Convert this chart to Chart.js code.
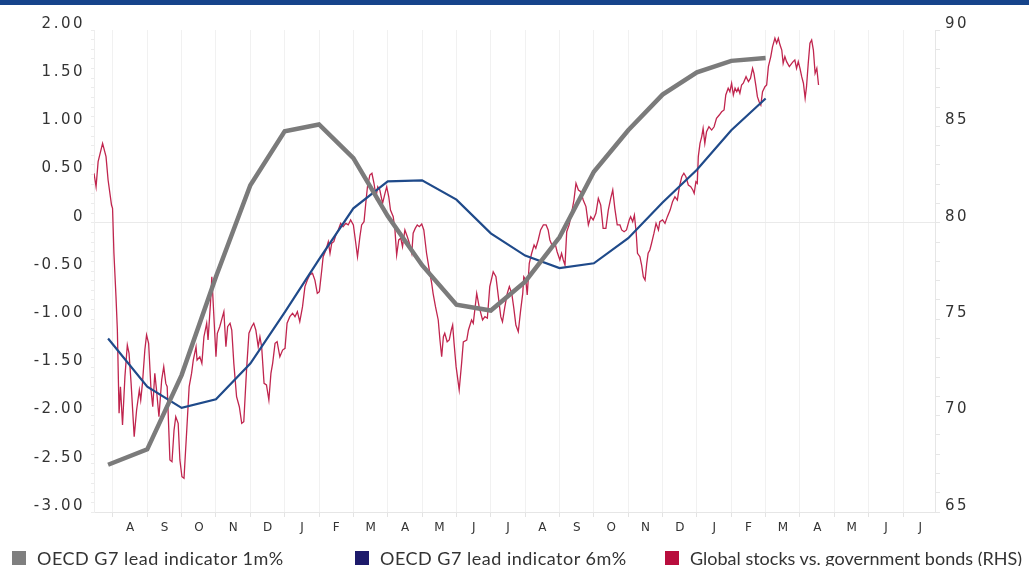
<!DOCTYPE html>
<html>
<head>
<meta charset="utf-8">
<script src="https://cdn.jsdelivr.net/npm/chart.js@4.4.1/dist/chart.umd.min.js"></script>
<style>
  html, body { margin: 0; padding: 0; background: #fff; }
  #wrap { position: relative; width: 1029px; height: 566px; overflow: hidden; }
  #topBar { position: absolute; left: 0; top: 0; width: 1029px; height: 5px; background: #16448b; z-index: 2; }
  #chartBox { position: absolute; left: 0; top: 0; width: 1029px; height: 566px; }
  .legend-item { position: absolute; top: 549px; height: 18px; line-height: 18px;
    font-family: Lato, 'Open Sans', sans-serif; font-size: 18px; color: #333; white-space: nowrap; }
  .legend-item .swatch { position: absolute; left: 0; top: 2px; width: 14px; height: 14px; }
  .legend-item .text { position: absolute; left: 25px; top: 0; }
</style>
</head>
<body>
<div id="wrap">
  <div id="topBar"></div>
  <div id="chartBox"><canvas id="leadChart"></canvas></div>
  <div id="legend"></div>
</div>
<script>
// ── Data (x = months counted from 1 July of year one) ──
const monthLabels = ['A','S','O','N','D','J','F','M','A','M','J','J',
                     'A','S','O','N','D','J','F','M','A','M','J','J'];

const leadMonths = [0.86, 2, 3, 4, 5, 6, 7, 8, 9, 10, 11, 12, 13, 14, 15, 16, 17, 18, 19, 20];
const lead1m = [-2.51, -2.35, -1.58, -0.56, 0.39, 0.95, 1.02, 0.67, 0.07, -0.44,
                -0.85, -0.91, -0.61, -0.15, 0.53, 0.96, 1.33, 1.56, 1.68, 1.71];
const lead6m = [-1.20, -1.70, -1.92, -1.83, -1.46, -0.93, -0.38, 0.15, 0.43, 0.44,
                0.24, -0.11, -0.34, -0.47, -0.42, -0.16, 0.21, 0.55, 0.96, 1.29];

const ratioMonths = [
  0.45,0.51,0.57,0.70,0.80,0.86,0.96,0.99,1.03,1.09,
  1.13,1.18,1.22,1.28,1.35,1.42,1.47,1.53,1.62,1.69,
  1.77,1.81,1.86,1.93,1.98,2.04,2.11,2.16,2.22,2.27,
  2.34,2.42,2.48,2.54,2.58,2.66,2.72,2.78,2.83,2.90,
  2.95,3.01,3.07,3.15,3.22,3.29,3.34,3.42,3.45,3.53,
  3.59,3.65,3.73,3.77,3.84,3.88,3.92,4.00,4.04,4.11,
  4.19,4.23,4.29,4.34,4.41,4.46,4.52,4.60,4.68,4.75,
  4.81,4.89,4.96,5.04,5.10,5.16,5.23,5.28,5.33,5.40,
  5.47,5.54,5.60,5.65,5.72,5.78,5.86,
  5.94,6.01,6.07,6.15,6.23,6.30,6.37,6.44,6.52,6.59,
  6.66,6.73,6.81,6.88,6.95,7.01,7.08,7.12,7.20,7.27,
  7.32,7.37,7.43,7.49,7.56,7.63,7.70,7.78,7.85,7.92,
  8.00,8.07,8.12,8.19,8.24,8.31,8.37,8.41,8.48,8.54,
  8.60,8.66,8.71,8.77,8.85,8.92,8.97,9.03,9.08,9.16,
  9.21,9.26,9.32,9.38,9.43,9.50,9.57,9.63,9.70,9.74,
  9.80,9.86,9.92,9.99,10.05,10.13,10.21,10.28,10.32,10.39,
  10.47,10.52,10.57,10.62,10.66,10.73,10.79,10.85,10.89,10.93,
  10.99,11.08,11.15,11.20,11.30,11.35,11.44,11.49,11.59,11.66,
  11.76,11.83,11.90,11.97,12.07,12.15,12.22,12.29,12.34,12.41,
  12.48,12.54,12.61,12.67,12.73,12.80,12.87,12.93,12.96,13.02,
  13.06,13.12,13.19,13.26,13.31,13.38,13.45,13.53,13.61,13.67,
  13.72,13.80,13.87,13.93,14.01,14.06,14.11,14.16,14.21,14.28,
  14.35,14.42,14.48,14.55,14.62,14.69,14.77,14.84,14.91,14.98,
  15.06,15.13,15.20,15.27,15.35,15.42,15.49,15.55,15.61,15.68,
  15.76,15.81,15.88,15.95,16.03,16.07,16.13,16.18,16.23,16.27,
  16.34,16.39,16.44,16.49,16.54,16.58,16.63,16.68,16.75,16.81,
  16.88,16.92,17.00,17.07,17.14,17.22,17.29,17.36,17.43,17.49,
  17.56,17.62,17.68,17.75,17.82,17.88,17.92,17.97,18.01,18.04,
  18.09,18.14,18.18,18.23,18.28,18.35,18.43,18.50,18.57,18.65,
  18.72,18.79,18.84,18.91,18.96,19.01,19.06,19.11,19.16,19.20,
  19.25,19.30,19.35,19.43,19.50,19.56,19.62,19.66,19.72,19.76,
  19.81,19.86,19.91,19.98,20.03,20.08,20.15,20.20,20.27,20.32,
  20.37,20.42,20.47,20.51,20.56,20.61,20.69,20.76,20.80,20.85,
  20.90,20.95,21.00,21.05,21.10,21.15,21.19,21.24,21.29,21.34,
  21.39,21.44,21.49,21.54
];
const ratioValues = [
  82.57,81.87,83.17,84.12,83.43,82.22,80.92,80.75,78.42,76.17,
  74.44,70.12,71.50,69.51,72.02,73.66,73.23,71.67,68.91,70.29,
  71.33,70.81,71.67,73.40,74.18,73.75,71.33,70.46,72.19,71.33,
  69.94,71.85,72.54,71.67,71.50,67.70,67.61,69.25,69.94,69.60,
  67.70,66.83,66.75,69.25,71.50,72.19,72.88,73.57,72.88,73.05,
  72.71,74.09,74.79,73.92,75.82,77.20,75.82,73.05,74.27,74.61,
  75.13,75.39,73.57,74.61,74.79,74.44,72.71,70.98,70.46,69.60,
  69.68,72.36,74.27,74.61,74.79,74.44,73.57,74.09,73.57,71.67,
  71.59,70.81,72.19,72.71,73.75,73.83,73.05,
  73.40,73.49,74.79,75.13,75.31,75.13,75.39,74.87,75.65,76.69,
  77.03,77.29,77.38,77.03,76.34,76.43,77.55,78.24,78.59,79.02,
  78.42,78.94,79.02,79.37,79.63,79.97,79.80,79.97,79.89,80.15,
  79.89,78.94,78.24,79.28,79.89,80.06,81.18,81.87,82.48,82.57,
  82.05,81.35,81.87,81.70,81.01,81.53,81.87,81.35,80.66,80.32,
  79.63,78.33,79.11,79.20,78.76,79.63,79.28,78.94,78.42,79.46,
  79.71,79.89,79.80,79.94,79.63,78.42,77.55,76.86,76.34,75.65,
  74.96,73.92,73.05,74.09,74.27,73.83,73.92,74.44,74.70,73.77,
  72.54,71.33,72.71,73.82,73.92,74.44,74.96,74.79,76.34,75.65,
  74.96,75.13,75.05,76.69,77.46,77.20,76.17,75.13,74.87,75.65,
  76.34,76.69,76.34,75.57,74.70,74.35,75.48,76.34,77.20,77.03,
  76.26,77.90,78.42,78.85,78.68,79.11,79.63,79.89,79.89,79.63,
  79.11,78.76,78.94,78.50,78.07,78.42,78.07,77.81,79.54,79.89,
  80.49,81.18,82.05,81.70,81.61,81.18,80.84,79.89,80.32,80.15,
  80.49,81.27,80.92,79.71,79.71,80.66,81.27,81.70,80.75,79.89,
  79.89,79.63,79.54,79.63,80.15,80.32,80.06,80.40,79.54,78.42,
  78.24,77.81,77.20,77.03,77.90,78.42,78.59,78.94,79.46,79.97,
  79.63,80.06,80.15,79.97,80.32,80.66,81.09,81.35,81.18,81.87,
  82.39,82.57,82.39,81.96,81.87,81.70,81.53,82.13,82.05,83.43,
  84.12,84.47,84.90,84.12,84.73,84.98,84.81,84.98,85.42,85.59,
  85.76,85.85,86.63,86.98,86.80,87.24,86.63,86.98,86.80,86.98,
  86.72,87.15,87.24,87.58,87.32,87.50,88.01,87.75,87.06,86.54,
  86.28,86.11,86.80,87.06,87.15,88.10,88.62,89.13,89.57,89.31,
  89.57,89.22,88.96,88.27,88.62,88.36,88.10,88.27,88.36,88.44,
  88.01,88.36,88.01,87.58,87.24,86.46,87.06,88.27,89.31,89.48,
  88.96,87.75,88.01,87.15
];

// ── Helpers ─────────────────────────────────────────
const toPoints = (xs, ys) => xs.map((x, i) => ({ x, y: ys[i] }));
const isStep = (v, step) => Math.abs(v / step - Math.round(v / step)) < 1e-6;
const AXIS_FONT = { family: "'DejaVu Sans', sans-serif", size: 15 };
const AXIS_LINE = '#e6e6e6';

// wide tick labels, like the extended face of the original
const wideLabels = {
  id: 'wideLabels',
  beforeDraw(chart) { chart.ctx.letterSpacing = '2.5px'; },
  afterDraw(chart) { chart.ctx.letterSpacing = '0px'; }
};

// ── Chart ───────────────────────────────────────────
const datasets = [
  {
    label: 'OECD G7 lead indicator 1m%',
    data: toPoints(leadMonths, lead1m),
    borderColor: '#7b7b7b',
    legendColor: '#7f7f7f',
    borderWidth: 4.5,
    yAxisID: 'y',
  },
  {
    label: 'OECD G7 lead indicator 6m%',
    data: toPoints(leadMonths, lead6m),
    borderColor: '#1f4a8a',
    legendColor: '#1d1a6b',
    borderWidth: 2.2,
    yAxisID: 'y',
  },
  {
    label: 'Global stocks vs. government bonds (RHS)',
    data: toPoints(ratioMonths, ratioValues),
    borderColor: '#c0254e',
    legendColor: '#b80d3d',
    borderWidth: 1.3,
    yAxisID: 'y1',
  },
];

const chart = new Chart(document.getElementById('leadChart'), {
  type: 'line',
  data: { datasets },
  options: {
    responsive: true,
    maintainAspectRatio: false,
    animation: false,
    parsing: false,
    elements: {
      point: { radius: 0 },
      line: { tension: 0, fill: false, borderCapStyle: 'butt' },
    },
    layout: { padding: { top: 30, left: 0, right: 0, bottom: 0 } },
    plugins: { legend: { display: false }, tooltip: { enabled: false } },
    scales: {
      x: {
        type: 'linear',
        min: 0.45,
        max: 24.93,
        afterBuildTicks: (s) => { s.ticks = monthLabels.map((_, i) => ({ value: i + 1 })); },
        afterFit: (s) => { s.height = 54; },
        ticks: {
          autoSkip: false,
          maxRotation: 0,
          labelOffset: 18.5,
          padding: 4,
          color: '#333',
          font: { family: "'DejaVu Sans', sans-serif", size: 12 },
          callback: (v, i) => monthLabels[i],
        },
        grid: { color: '#f1f1f1', tickColor: '#e3e3e3', tickLength: 5 },
        border: { color: AXIS_LINE },
      },
      y: {
        position: 'left',
        min: -3,
        max: 2,
        afterBuildTicks: (s) => {
          s.ticks = [];
          for (let k = -30; k <= 20; k++) s.ticks.push({ value: k / 10 });
        },
        afterFit: (s) => { s.width = 94; },
        ticks: {
          autoSkip: false,
          labelOffset: -6,
          padding: 6,
          color: '#333',
          font: AXIS_FONT,
          callback: (v) => (isStep(v, 0.5) ? (v === 0 ? '0' : v.toFixed(2)) : ''),
        },
        grid: {
          color: (ctx) => (ctx.tick && ctx.tick.value === 0 ? '#eaeaea' : 'rgba(0,0,0,0)'),
          tickColor: '#ececec',
          tickLength: 3,
        },
        border: { color: '#eeeeee' },
      },
      y1: {
        position: 'right',
        min: 65,
        max: 90,
        afterBuildTicks: (s) => {
          s.ticks = [];
          for (let v = 65; v <= 90; v++) s.ticks.push({ value: v });
        },
        afterFit: (s) => { s.width = 94; },
        ticks: {
          autoSkip: false,
          labelOffset: -6,
          padding: 5,
          color: '#333',
          font: AXIS_FONT,
          callback: (v) => (isStep(v, 5) ? String(v) : ''),
        },
        grid: { drawOnChartArea: false, tickColor: '#e6e6e6', tickLength: 5 },
        border: { color: AXIS_LINE },
      },
    },
  },
  plugins: [wideLabels],
});

// ── Legend (HTML, under the plot) ───────────────────
const legendLefts = [12, 355, 665];
const legendTracking = [0.5, 0.5, 0];
document.getElementById('legend').innerHTML = chart.data.datasets
  .map((ds, i) => `<div class="legend-item" style="left:${legendLefts[i]}px;letter-spacing:${legendTracking[i]}px">
      <span class="swatch" style="background:${ds.legendColor}"></span>
      <span class="text">${ds.label}</span>
    </div>`)
  .join('');
</script>
</body>
</html>
